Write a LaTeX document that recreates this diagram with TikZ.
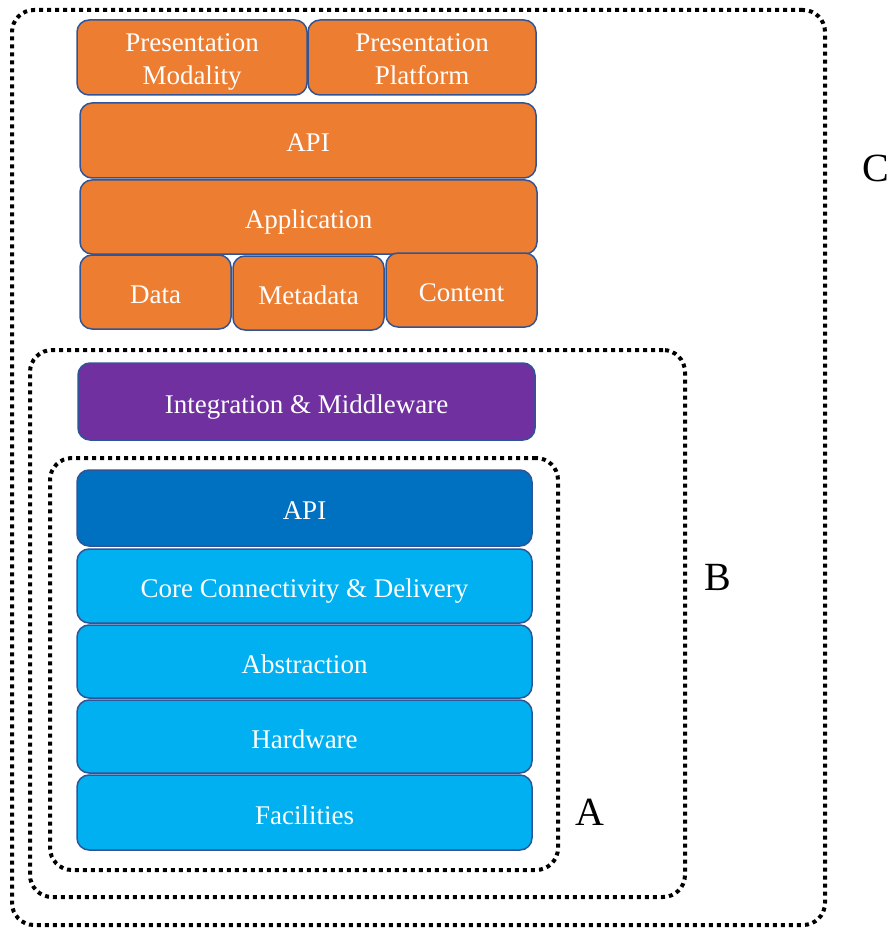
\documentclass[tikz,border=0pt]{standalone}
\usepackage{fontspec}
\setmainfont{Liberation Serif}
\definecolor{orng}{HTML}{ED7D31}
\definecolor{purp}{HTML}{7030A0}
\definecolor{dblue}{HTML}{0070C0}
\definecolor{lblue}{HTML}{00B0F0}
\definecolor{edge}{HTML}{2F5597}
\begin{document}
\begin{tikzpicture}[x=1pt,y=-1pt,
  layer/.style={draw=edge, line width=1.5pt, rounded corners=12pt, inner sep=0pt, outer sep=0pt,
    text=white, align=center, font=\fontsize{27}{33}\selectfont, text height=23pt, text depth=0pt},
  twoline/.style={text height=64pt, text depth=9.9pt},
  obox/.style={layer, fill=orng},
  pbox/.style={layer, fill=purp},
  dbbox/.style={layer, fill=dblue},
  lbbox/.style={layer, fill=lblue},
  dotbox/.style={draw=black, line width=4pt, dash pattern=on 4pt off 4pt, rounded corners=22pt, inner sep=0pt},
  lbl/.style={font=\fontsize{40}{40}\selectfont, text=black}]
\useasboundingbox (0,0) rectangle (891,928);
% dotted containers
\node[dotbox, minimum width=813pt, minimum height=915pt] (C) at (418.5,467.5) {};
\node[dotbox, minimum width=655pt, minimum height=547pt] (B) at (357.5,623.5) {};
\node[dotbox, minimum width=508pt, minimum height=412pt] (A) at (304,664) {};
\node[lbl] (Cl) at (876,168) {C};
\node[lbl] (Bl) at (718,577) {B};
\node[lbl] (Al) at (590,812) {A};
% orange stack
\node[obox, twoline, minimum width=230pt, minimum height=75pt] (pm) at (192,57.5) {\strut Presentation\\\strut Modality};
\node[obox, twoline, minimum width=228pt, minimum height=75pt] (pp) at (422,57.5) {\strut Presentation\\\strut Platform};
\node[obox, minimum width=456pt, minimum height=75pt] (api1) at (308,140.5) {API};
\node[obox, minimum width=457pt, minimum height=74pt] (app) at (308.5,217) {Application};
\node[obox, minimum width=151pt, minimum height=74pt] (data) at (155.5,292) {Data};
\node[obox, minimum width=151pt, minimum height=74pt] (meta) at (308.5,293) {Metadata};
\node[obox, minimum width=151pt, minimum height=74pt] (cont) at (461.5,290) {Content};
% purple
\node[pbox, minimum width=457pt, minimum height=77pt] (int) at (306.5,401.5) {Integration \& Middleware};
% blue stack
\node[dbbox, minimum width=455pt, minimum height=76pt] (api2) at (304.5,508) {API};
\node[lbbox, minimum width=455pt, minimum height=74pt] (core) at (304.5,586) {Core Connectivity \& Delivery};
\node[lbbox, minimum width=455pt, minimum height=73pt] (abs) at (304.5,661.5) {Abstraction};
\node[lbbox, minimum width=455pt, minimum height=73pt] (hw) at (304.5,736.5) {Hardware};
\node[lbbox, minimum width=455pt, minimum height=75pt] (fac) at (304.5,812.5) {Facilities};
\end{tikzpicture}
\end{document}
